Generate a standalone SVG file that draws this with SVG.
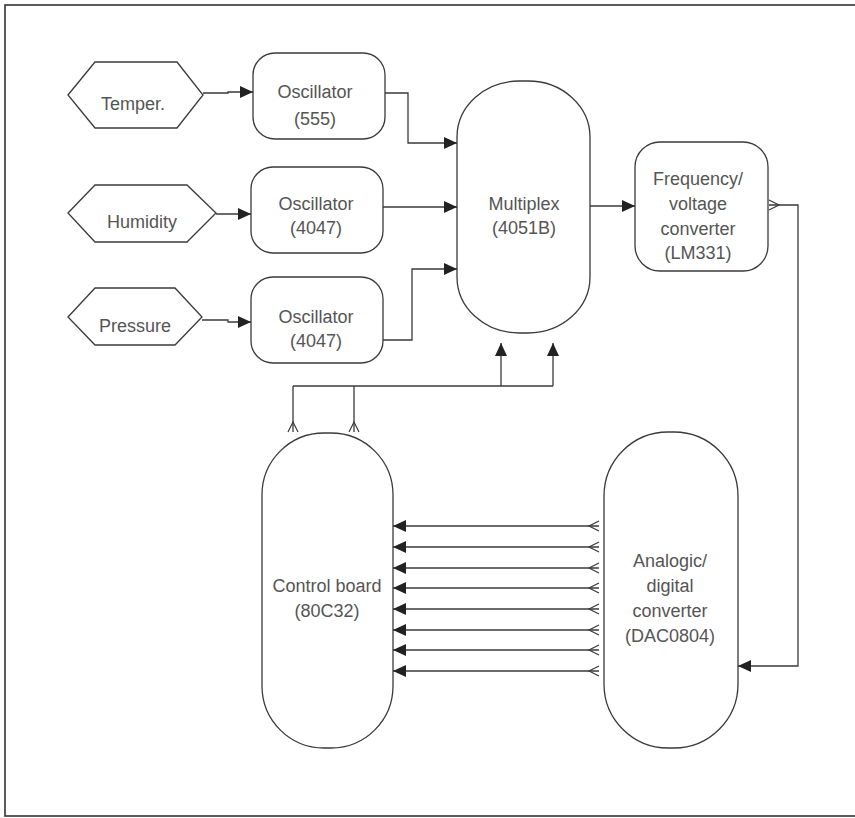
<svg xmlns="http://www.w3.org/2000/svg" width="855" height="818" viewBox="0 0 855 818">
<defs>
<style>
.node{fill:#fff;stroke:#3a3a3a;stroke-width:1.3}
.lbl{font-family:"Liberation Sans",Arial,sans-serif;font-size:18px;fill:#555;text-anchor:middle}
.wire{fill:none;stroke:#3a3a3a;stroke-width:1.3}
.fa{marker-end:url(#fill)}
.oa{marker-start:url(#open)}
</style>
<marker id="fill" markerUnits="userSpaceOnUse" markerWidth="14" markerHeight="14" refX="13" refY="6" orient="auto">
<path d="M0,0 L13,6 L0,12 Z" fill="#222"/>
</marker>
<marker id="open" markerUnits="userSpaceOnUse" markerWidth="14" markerHeight="14" refX="1" refY="6" orient="auto" overflow="visible">
<path d="M1,1 L11,6 L1,11" fill="none" stroke="#3a3a3a" stroke-width="1.2"/>
</marker>
</defs>
<rect x="0" y="0" width="855" height="818" fill="#fff"/>
<rect x="5" y="5" width="860" height="811" fill="none" stroke="#333" stroke-width="1.6"/>

<g id="temper">
<polygon class="node" points="68,95 95,62 177,62 203,95 177,128 95,128"/>
<text class="lbl" x="133" y="110">Temper.</text>
</g>
<g id="humidity">
<polygon class="node" points="68,213 95,185 187,185 216,213 187,242 95,242"/>
<text class="lbl" x="142" y="228">Humidity</text>
</g>
<g id="pressure">
<polygon class="node" points="68,317 95,288 175,288 202,317 175,345 95,345"/>
<text class="lbl" x="135" y="332">Pressure</text>
</g>
<g id="osc555">
<rect class="node" x="253" y="53" width="132" height="86" rx="22" ry="22"/>
<text class="lbl" x="315" y="98">Oscillator</text>
<text class="lbl" x="315" y="125">(555)</text>
</g>
<g id="osc4047a">
<rect class="node" x="251" y="167" width="132" height="86" rx="22" ry="22"/>
<text class="lbl" x="316" y="210">Oscillator</text>
<text class="lbl" x="316" y="234">(4047)</text>
</g>
<g id="osc4047b">
<rect class="node" x="251" y="277" width="132" height="86" rx="22" ry="22"/>
<text class="lbl" x="316" y="323">Oscillator</text>
<text class="lbl" x="316" y="347">(4047)</text>
</g>
<g id="multiplex">
<rect class="node" x="457" y="81" width="133" height="252" rx="62" ry="56"/>
<text class="lbl" x="524" y="210">Multiplex</text>
<text class="lbl" x="524" y="234">(4051B)</text>
</g>
<g id="fvconv">
<rect class="node" x="635" y="142" width="133" height="129" rx="25" ry="25"/>
<text class="lbl" x="698" y="185">Frequency/</text>
<text class="lbl" x="698" y="210">voltage</text>
<text class="lbl" x="698" y="235">converter</text>
<text class="lbl" x="698" y="259">(LM331)</text>
</g>
<g id="control">
<rect class="node" x="262" y="433" width="131" height="315" rx="62" ry="62"/>
<text class="lbl" x="327" y="592">Control board</text>
<text class="lbl" x="327" y="617">(80C32)</text>
</g>
<g id="adc">
<rect class="node" x="604" y="432" width="134" height="316" rx="64" ry="64"/>
<text class="lbl" x="670" y="567">Analogic/</text>
<text class="lbl" x="670" y="592">digital</text>
<text class="lbl" x="670" y="617">converter</text>
<text class="lbl" x="670" y="642">(DAC0804)</text>
</g>

<g id="connectors">
<path class="wire fa" d="M203,93 H228 V92 H253"/>
<path class="wire fa" d="M216,214 H251"/>
<path class="wire fa" d="M202,320 H228 V322 H251"/>
<path class="wire fa" d="M385,93 H408 V143 H457"/>
<path class="wire fa" d="M383,207 H457"/>
<path class="wire fa" d="M383,340 H412 V269 H457"/>
<path class="wire fa" d="M590,206 H635"/>
<path class="wire oa fa" d="M769,205 H798 V666 H738"/>
<path class="wire" d="M293,386 H553"/>
<path class="wire oa" d="M293,432 V386"/>
<path class="wire oa" d="M354,432 V386"/>
<path class="wire fa" d="M501,386 V343"/>
<path class="wire fa" d="M553,386 V343"/>
<path class="wire oa fa" d="M599,526 H393"/>
<path class="wire oa fa" d="M599,547 H393"/>
<path class="wire oa fa" d="M599,568 H393"/>
<path class="wire oa fa" d="M599,588 H393"/>
<path class="wire oa fa" d="M599,609 H393"/>
<path class="wire oa fa" d="M599,630 H393"/>
<path class="wire oa fa" d="M599,650 H393"/>
<path class="wire oa fa" d="M599,671 H393"/>
</g>
</svg>
